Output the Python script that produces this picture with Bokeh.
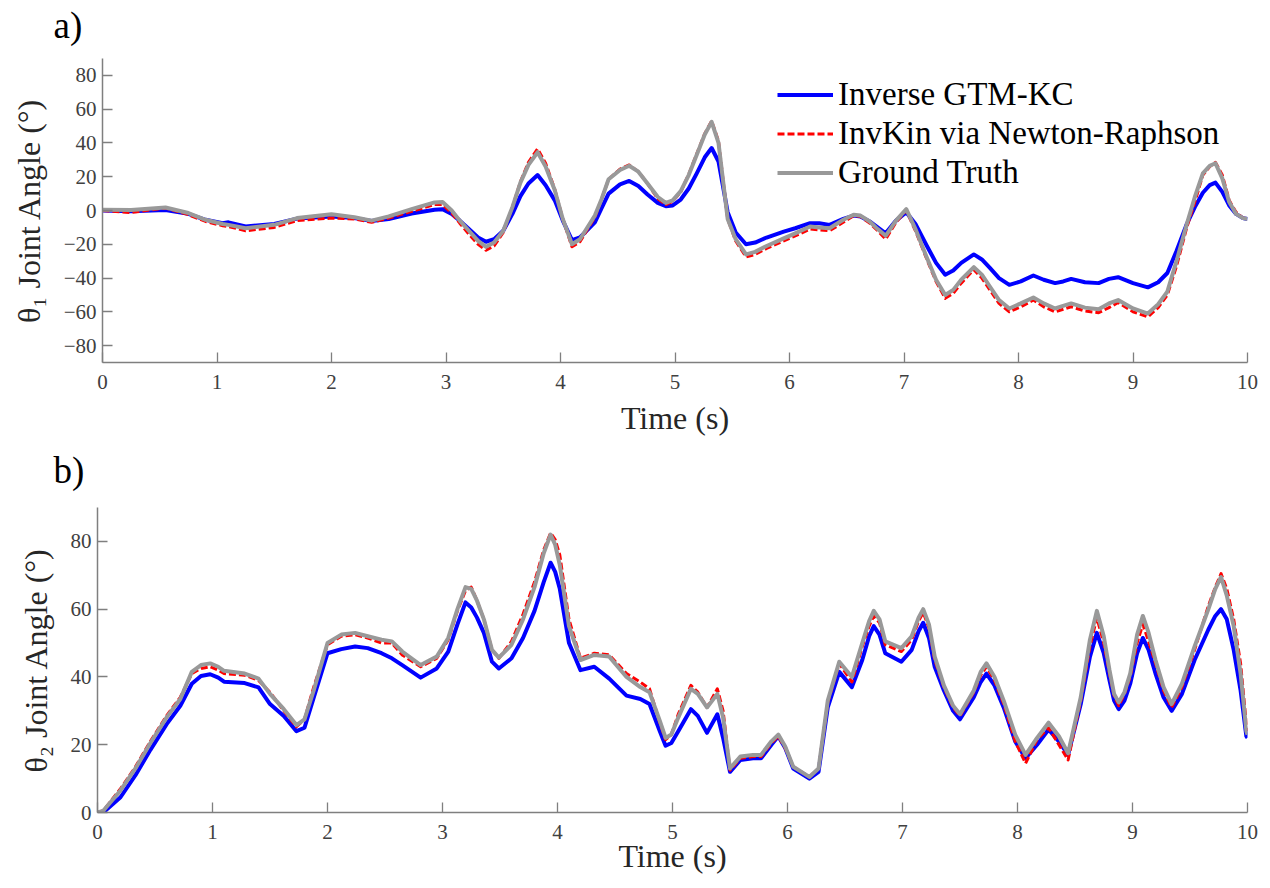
from bokeh.plotting import figure
from bokeh.models import Range1d, Legend, LegendItem, FixedTicker, Label
from bokeh.embed import file_html
from bokeh.resources import INLINE

FONT = "Liberation Serif"

# ---------------- Panel a) : theta_1 ----------------
t_a = [0.0, 0.25, 0.55, 0.75, 0.9, 1.05, 1.1, 1.25, 1.5, 1.7,
       2.0, 2.2, 2.35, 2.5, 2.7, 2.9, 2.97, 3.05, 3.12, 3.2,
       3.28, 3.35, 3.42, 3.5, 3.58, 3.65, 3.72, 3.8, 3.87, 3.95,
       4.02, 4.1, 4.17, 4.3, 4.36, 4.42, 4.52, 4.6, 4.68, 4.76,
       4.85, 4.92, 4.98, 5.05, 5.12, 5.19, 5.26, 5.32, 5.38, 5.46,
       5.53, 5.62, 5.7, 5.8, 5.95, 6.05, 6.18, 6.26, 6.35, 6.47,
       6.56, 6.62, 6.7, 6.77, 6.84, 6.93, 7.02, 7.1, 7.2, 7.28,
       7.36, 7.43, 7.5, 7.61, 7.68, 7.75, 7.83, 7.92, 8.02, 8.13,
       8.22, 8.32, 8.39, 8.46, 8.58, 8.7, 8.79, 8.87, 9.0, 9.13,
       9.22, 9.3, 9.38, 9.47, 9.54, 9.61, 9.67, 9.72, 9.78, 9.84,
       9.9, 9.96, 10.0]
gtm_a = [0, -0.5, 0.3, -2, -5.5, -7.5, -7, -9.5, -8, -4.8,
         -3.5, -4.5, -6.2, -5, -1.8, 0.5, 0.8, -2, -6, -11,
         -16, -18.5, -17, -12, -2, 8.5, 16, 21, 15, 6,
         -6, -17.5, -16, -7, 1.5, 10, 15.5, 17.5, 14.5, 9.5,
         4.5, 2.5, 3, 6.5, 13, 22, 31.5, 37, 29, -1,
         -13, -20, -19, -16, -12.5, -10.5, -7.5, -7.5, -8.5, -5,
         -3, -3.5, -6.5, -10, -13.5, -6, -1, -8, -21, -31,
         -38, -35.5, -31, -26, -29, -34, -40, -44, -42, -38.5,
         -41, -43, -42, -40.5, -42.5, -43, -40.5, -39.5, -43, -45.5,
         -42.5, -37, -24, -8, 2, 10.5, 15, 16.5, 11, 3,
         -2, -4.5, -5]
nr_a = [0, -1.2, 1.5, -2.5, -6.5, -9, -9.5, -12, -10, -6,
        -4.5, -5, -7, -4.5, -0.5, 3.5, 3.5, -1.5, -7.5, -14,
        -20, -23.5, -21, -13, 2, 17, 28.5, 36.5, 28, 12.5,
        -5, -21.5, -18.5, -4, 7, 18.5, 24.5, 27, 23, 16,
        7, 3.5, 5.5, 11, 21.5, 33.5, 45.5, 53, 41, -5,
        -18, -27.5, -26, -22.5, -18, -15, -11, -11.5, -12, -7,
        -3, -3.5, -7.5, -12, -17, -7, 0, -12, -29, -42,
        -52, -49, -43, -35, -40, -47, -55, -60, -57, -53,
        -57, -60, -58.5, -57, -59.5, -60.5, -57.5, -54.5, -60, -63,
        -57.5, -50, -33, -10, 5, 21, 26, 28.5, 21, 6,
        -1, -4.5, -5]
gt_a = [0.5, 0.3, 1.8, -1.5, -5.5, -8, -8.5, -10.5, -8.5, -4.5,
        -2.2, -4, -6, -3.5, 0.8, 4.8, 5, 0, -6, -12,
        -18, -21.5, -19, -12, 2, 16.5, 27, 34.5, 26, 12,
        -5, -20, -17, -3, 7, 18.5, 24, 26.5, 23, 16,
        8, 4.5, 6, 11.5, 21, 33, 45, 52.5, 40, -5,
        -17, -26, -24.5, -21, -16.5, -13.5, -9.5, -10, -10.5, -5.5,
        -2.5, -3, -6.5, -11, -15, -6, 0.8, -11, -28, -41,
        -50, -47, -41, -33.5, -38, -45, -53, -58, -55, -51.5,
        -55, -58, -56.5, -55, -57.5, -58.5, -55, -53, -58, -61,
        -55.5, -48, -30, -8, 8, 22, 26.5, 28, 19, 5,
        -2, -4.5, -5]

# ---------------- Panel b) : theta_2 ----------------
t_b = [0.0, 0.05, 0.2, 0.33, 0.46, 0.6, 0.72, 0.82, 0.9, 0.98,
       1.05, 1.1, 1.28, 1.4, 1.5, 1.62, 1.73, 1.8, 1.88, 2.0,
       2.12, 2.24, 2.35, 2.47, 2.56, 2.65, 2.81, 2.95, 3.05, 3.13,
       3.2, 3.25, 3.3, 3.36, 3.43, 3.49, 3.6, 3.7, 3.8, 3.88,
       3.94, 3.98, 4.02, 4.1, 4.2, 4.32, 4.45, 4.6, 4.72, 4.8,
       4.89, 4.94, 4.99, 5.05, 5.16, 5.22, 5.3, 5.39, 5.44, 5.5,
       5.59, 5.7, 5.77, 5.86, 5.92, 5.98, 6.05, 6.19, 6.27, 6.35,
       6.45, 6.56, 6.65, 6.71, 6.75, 6.8, 6.85, 6.99, 7.08, 7.14,
       7.18, 7.23, 7.28, 7.36, 7.44, 7.5, 7.62, 7.68, 7.73, 7.8,
       7.88, 7.98, 8.07, 8.17, 8.27, 8.36, 8.44, 8.55, 8.63, 8.69,
       8.75, 8.8, 8.84, 8.88, 8.93, 8.98, 9.04, 9.09, 9.14, 9.2,
       9.27, 9.34, 9.43, 9.54, 9.66, 9.72, 9.77, 9.82, 9.88, 9.94,
       9.99, 10.0]
gtm_b = [0, 0, 4.5, 11, 18.5, 26, 31.5, 38, 40.3, 40.8,
         39.8, 38.6, 38.2, 36.9, 32, 28.5, 24, 25, 33.9, 47,
         48.2, 49, 48.5, 47, 45.5, 43.5, 39.8, 42.5, 47.5, 55.5,
         62, 60.5, 57.5, 53, 44.5, 42.5, 45.5, 51.5, 59.5, 68,
         73.7, 71, 66, 50, 42, 43, 39.5, 34.5, 33.5, 32,
         24, 19.7, 20.5, 24, 30.5, 28.5, 23.5, 29, 22, 12,
         15.5, 16, 16, 20, 22.5, 19, 13, 10, 12, 31,
         41.5, 37, 45, 52, 55, 52.5, 47, 44.5, 48, 53.5,
         56, 51.5, 43, 36, 30, 27.5, 34, 38.5, 41, 37.5,
         31, 21, 16, 20, 24.5, 21, 17, 32, 46, 53,
         47, 39, 33, 30.5, 33, 38, 47, 51.5, 48, 41,
         34, 30, 35, 45, 54, 58, 60, 57, 48, 36,
         22.5, 22]
nr_b = [0, 0.5, 7, 13.5, 21, 28.5, 34, 41, 42.5, 43,
        42, 41, 40.5, 39, 35.5, 30, 25.3, 27.5, 37, 49.5,
        52, 52.5, 51.5, 50, 50, 46.5, 43, 45.5, 51, 59.5,
        65.5, 66.5, 62.5, 57, 48, 45.5, 50.5, 58.5, 68, 77.5,
        82.5, 80.5, 76, 57, 45.5, 47, 46.5, 41, 38.5, 36.5,
        26.5, 21.5, 23, 29, 37.5, 35.5, 31, 36.5, 30, 12.5,
        16, 16.5, 16.5, 20.5, 22.5, 19, 13.5, 10.5, 13, 32.5,
        44, 38.5, 49, 55, 58, 56, 49.5, 47.5, 51, 56.5,
        59, 54.5, 45, 37, 31, 28.5, 35.5, 40.5, 43, 39,
        32, 21, 14.5, 21.5, 25, 20, 15.5, 33, 49, 57.5,
        50, 41, 34.5, 31.5, 35, 40, 50, 55.5, 50.5, 44,
        36, 31, 37, 48, 61, 66.5, 70.5, 66, 57, 44,
        26, 24]
gt_b = [0, 0.5, 6.5, 13, 20.5, 28, 33.5, 41.5, 43.5, 44,
        43, 41.8, 41, 39.5, 35, 30.5, 25.8, 27.5, 36, 50,
        52.5, 53, 52, 51, 50.5, 47.5, 43.5, 46, 51.5, 60,
        66.5, 66, 62.5, 57, 48, 45.7, 49.5, 57, 66.5, 76.5,
        82, 79, 73, 55, 45, 46.5, 46, 40, 37, 35.5,
        27, 22, 23, 28, 36.5, 35, 31, 35, 28, 13,
        16.5, 17, 17, 21, 23, 19.5, 13.5, 10.5, 13, 33,
        44.5, 40, 50, 56.5, 59.5, 57, 50.5, 48.5, 52, 57.5,
        60, 55.5, 46, 37.5, 31.5, 29, 36, 41.5, 44, 40,
        33, 23, 17, 22, 26.5, 22.5, 17.5, 34, 51, 59.5,
        52, 42, 35, 32.5, 35.5, 41, 52.5, 58, 53, 45,
        37, 32, 38, 49, 60, 66, 69.5, 64, 55, 41,
        24, 23]

x_ticks = list(range(0, 11))
y_ticks_a = [-80, -60, -40, -20, 0, 20, 40, 60, 80]
y_ticks_b = [0, 20, 40, 60, 80]
series_names = ["Inverse GTM-KC", "InvKin via Newton-Raphson", "Ground Truth"]
panel_tags = ["a)", "b)"]

BLUE = "#0000ff"
RED = "#ff0000"
GREY = "#999999"


def style(p, yticks, ylabel, xlab_standoff, xtick_standoff):
    p.outline_line_color = None
    p.xgrid.visible = False
    p.ygrid.visible = False
    p.xaxis.ticker = FixedTicker(ticks=x_ticks)
    p.yaxis.ticker = FixedTicker(ticks=yticks)
    for ax in (p.xaxis[0], p.yaxis[0]):
        ax.axis_line_color = "#7f7f7f"
        ax.axis_line_width = 1.5
        ax.major_tick_line_color = "#7f7f7f"
        ax.major_tick_line_width = 1.3
        ax.major_tick_in = 10
        ax.major_tick_out = 0
        ax.minor_tick_line_color = None
        ax.major_label_text_font = FONT
        ax.major_label_text_font_size = "21px"
        ax.major_label_text_color = "#404040"
        ax.axis_label_text_font = FONT
        ax.axis_label_text_font_size = "32px"
        ax.axis_label_text_font_style = "normal"
        ax.axis_label_text_color = "#262626"
    p.xaxis.axis_label = "Time (s)"
    p.xaxis.major_label_standoff = xtick_standoff
    p.xaxis.axis_label_standoff = xlab_standoff
    p.yaxis.axis_label = ylabel
    p.yaxis.major_label_standoff = 6
    p.yaxis.axis_label_standoff = 14


def header(height, text, x, y):
    h = figure(width=1270, height=height, output_backend="svg", toolbar_location=None,
               x_axis_location=None, y_axis_location=None,
               min_border_left=0, min_border_right=0, min_border_top=0, min_border_bottom=0)
    h.outline_line_color = None
    h.grid.visible = False
    h.add_layout(Label(x=x, y=y, x_units="screen", y_units="screen", text=text,
                       text_font=FONT, text_font_size="37px", text_color="black",
                       text_baseline="alphabetic", text_align="left"))
    return h


def draw(p, t, b, r, g):
    rb = p.line(t, b, line_color=BLUE, line_width=4, line_join="round")
    rr = p.line(t, r, line_color=RED, line_width=3, line_dash="7 3", line_join="round")
    rg = p.line(t, g, line_color=GREY, line_width=4, line_join="round")
    return [rb, rr, rg]


h1 = header(58, panel_tags[0], 53, 33)

p1 = figure(width=1270, height=386, x_range=Range1d(0, 10), y_range=Range1d(-90, 90),
            output_backend="svg", toolbar_location=None,
            min_border_left=102, min_border_right=23, min_border_top=0, min_border_bottom=82)
style(p1, y_ticks_a, "\u03b8\u2081 Joint Angle (\u00b0)", 8, 12)
rs = draw(p1, t_a, gtm_a, nr_a, gt_a)
legend = Legend(items=[LegendItem(label=n, renderers=[r]) for n, r in zip(series_names, rs)],
                location=(675, 170), border_line_color=None, background_fill_alpha=0,
                padding=0, margin=0, spacing=0, label_height=39, glyph_height=39,
                glyph_width=56, label_standoff=5, label_text_font=FONT,
                label_text_font_size="33px", label_text_color="black")
p1.add_layout(legend)

h2 = header(63, panel_tags[1], 53, 37)

p2 = figure(width=1270, height=381, x_range=Range1d(0, 10), y_range=Range1d(0, 90),
            output_backend="svg", toolbar_location=None,
            min_border_left=97, min_border_right=23, min_border_top=0, min_border_bottom=76)
style(p2, y_ticks_b, "\u03b8\u2082 Joint Angle (\u00b0)", -4, 12)
draw(p2, t_b, gtm_b, nr_b, gt_b)

open("out.html", "w").write(file_html([h1, p1, h2, p2], INLINE))
